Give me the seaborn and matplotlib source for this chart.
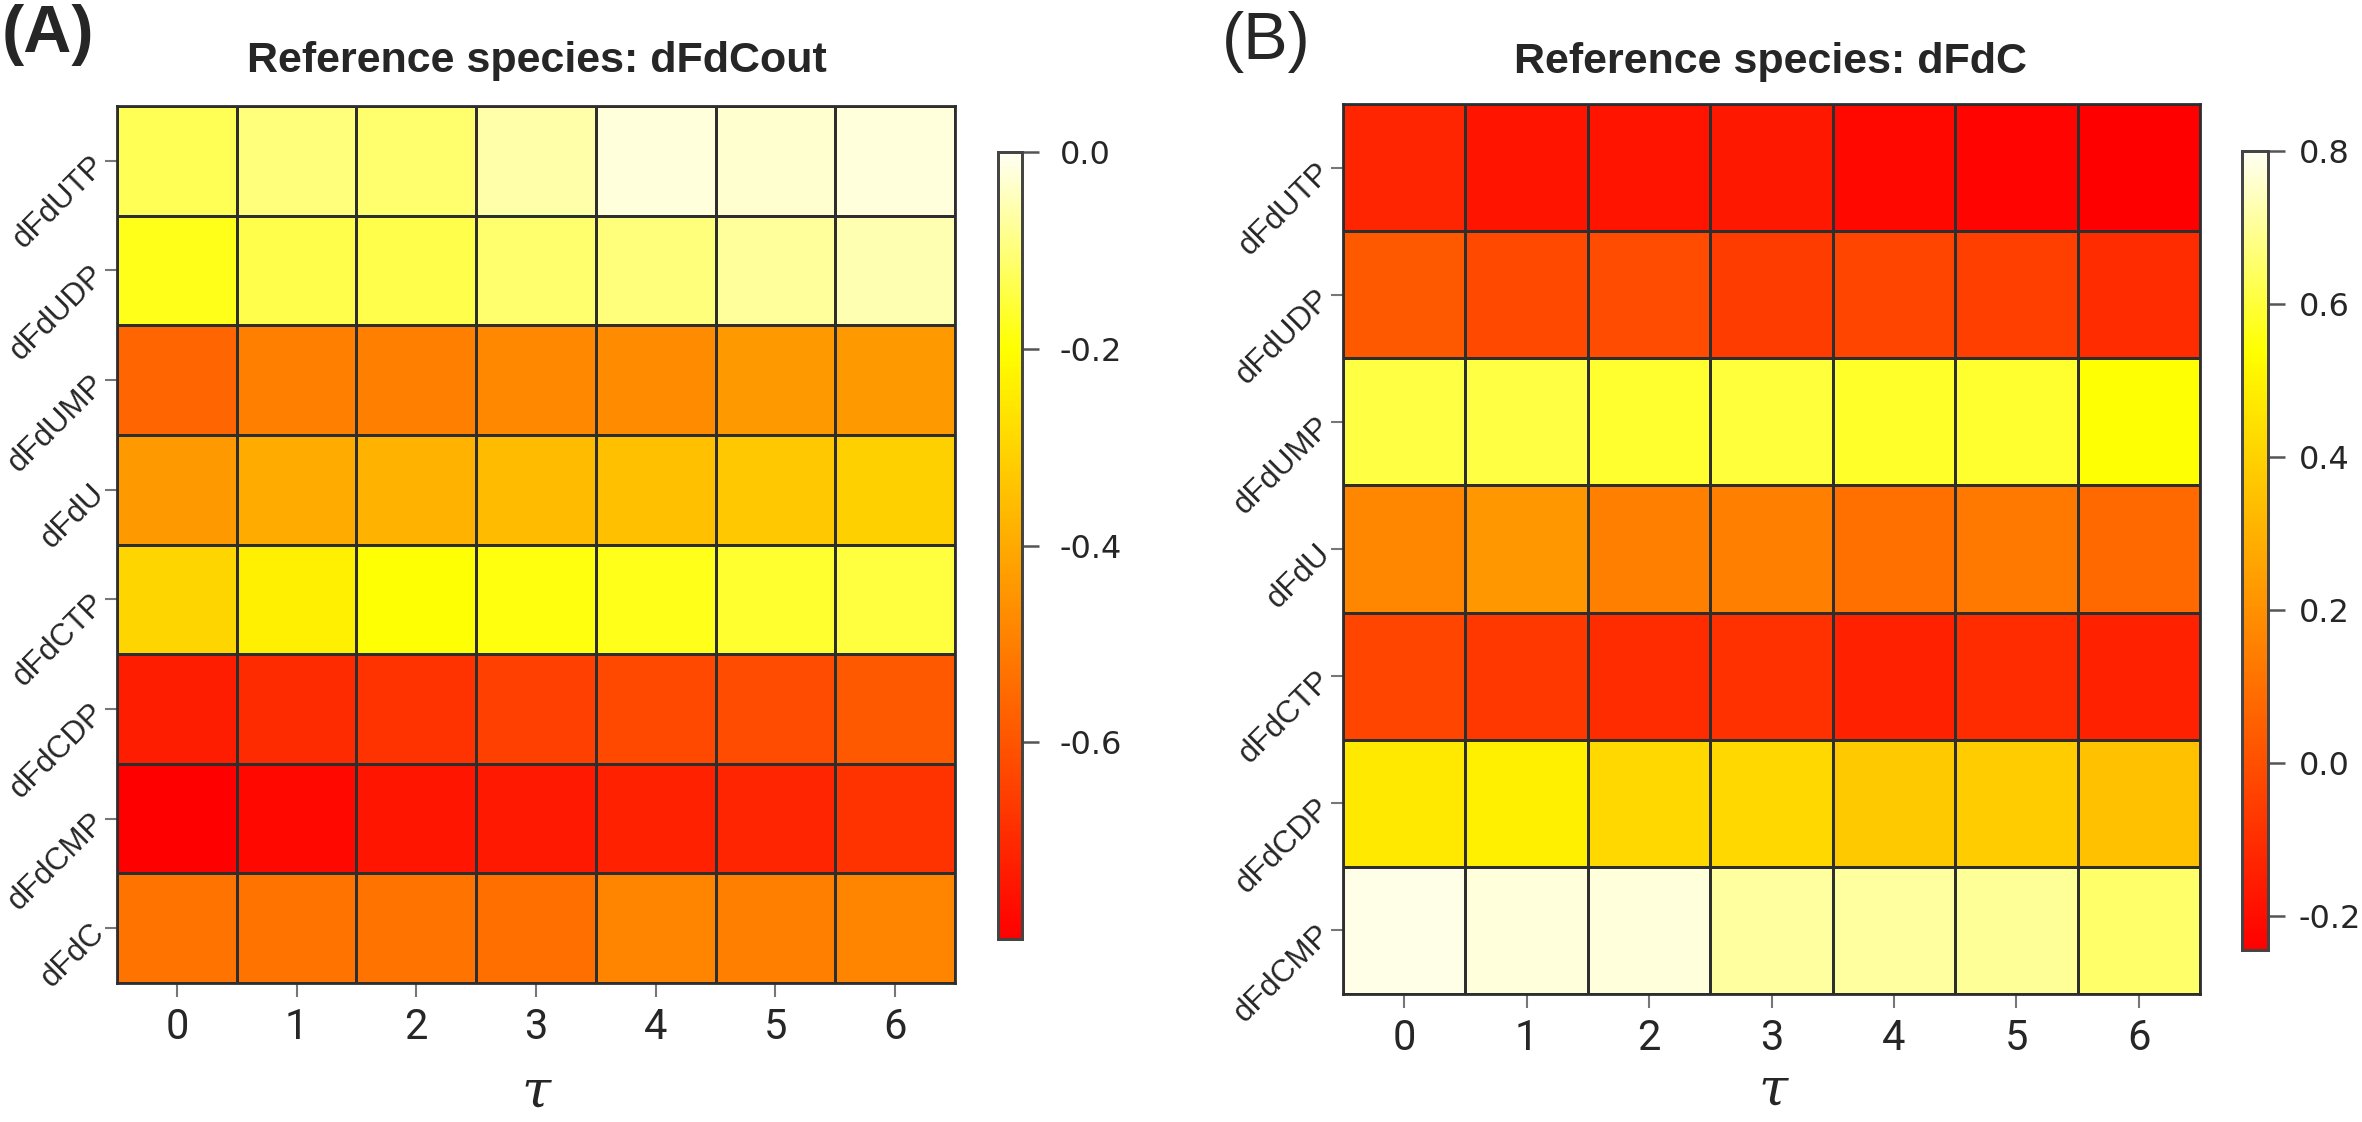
import numpy as np
import pandas as pd
import matplotlib
matplotlib.use("Agg")
import matplotlib.pyplot as plt
import seaborn as sns
from matplotlib.colors import ListedColormap, hsv_to_rgb
from matplotlib import font_manager

# ---------------- data ----------------
taus = [0, 1, 2, 3, 4, 5, 6]
species_a = ["dFdUTP", "dFdUDP", "dFdUMP", "dFdU", "dFdCTP", "dFdCDP", "dFdCMP", "dFdC"]
species_b = ["dFdUTP", "dFdUDP", "dFdUMP", "dFdU", "dFdCTP", "dFdCDP", "dFdCMP"]

# Panel A: reference species dFdCout
a_dFdUTP = [-0.13, -0.10, -0.11, -0.06, -0.02, -0.03, -0.02]
a_dFdUDP = [-0.18, -0.14, -0.14, -0.11, -0.10, -0.075, -0.055]
a_dFdUMP = [-0.56, -0.50, -0.50, -0.48, -0.47, -0.44, -0.44]
a_dFdU   = [-0.44, -0.40, -0.38, -0.36, -0.35, -0.33, -0.31]
a_dFdCTP = [-0.30, -0.24, -0.20, -0.19, -0.18, -0.16, -0.15]
a_dFdCDP = [-0.73, -0.70, -0.68, -0.65, -0.63, -0.62, -0.59]
a_dFdCMP = [-0.80, -0.78, -0.75, -0.74, -0.72, -0.71, -0.68]
a_dFdC   = [-0.53, -0.53, -0.53, -0.54, -0.49, -0.50, -0.49]

# Panel B: reference species dFdC
b_dFdUTP = [-0.13, -0.18, -0.18, -0.17, -0.22, -0.23, -0.245]
b_dFdUDP = [0.03, -0.02, -0.01, -0.06, -0.03, -0.05, -0.11]
b_dFdUMP = [0.61, 0.61, 0.59, 0.60, 0.58, 0.59, 0.54]
b_dFdU   = [0.17, 0.22, 0.15, 0.15, 0.10, 0.13, 0.08]
b_dFdCTP = [-0.03, -0.07, -0.11, -0.09, -0.14, -0.11, -0.14]
b_dFdCDP = [0.47, 0.49, 0.42, 0.42, 0.375, 0.38, 0.35]
b_dFdCMP = [0.785, 0.775, 0.775, 0.71, 0.71, 0.70, 0.65]

ticks_a = [0.0, -0.2, -0.4, -0.6]
ticks_b = [0.8, 0.6, 0.4, 0.2, 0.0, -0.2]
range_a = (-0.8, 0.0)
range_b = (-0.245, 0.8)

dfA = pd.DataFrame([a_dFdUTP, a_dFdUDP, a_dFdUMP, a_dFdU, a_dFdCTP, a_dFdCDP, a_dFdCMP, a_dFdC],
                   index=species_a, columns=taus)
dfB = pd.DataFrame([b_dFdUTP, b_dFdUDP, b_dFdUMP, b_dFdU, b_dFdCTP, b_dFdCDP, b_dFdCMP],
                   index=species_b, columns=taus)

# ---------------- style ----------------
sns.set_style("white")
plt.rcParams["font.family"] = ["Liberation Sans", "DejaVu Sans"]
plt.rcParams["axes.unicode_minus"] = False

names = {f.name for f in font_manager.fontManager.ttflist}
narrow = "Liberation Sans Narrow" if "Liberation Sans Narrow" in names else "Roboto"

# R heat.colors-like colormap
def heat_cmap(n=256):
    cols = []
    for t in np.linspace(0, 1, n):
        if t <= 0.75:
            h, s = t / 0.75 / 6.0, 1.0
        else:
            h, s = 1 / 6.0, 1.0 - (t - 0.75) / 0.25 * 0.95
        cols.append(hsv_to_rgb([h, s, 1.0]))
    return ListedColormap(cols)

cmap = heat_cmap()

W, H = 2362, 1122
fig = plt.figure(figsize=(W / 100, H / 100), dpi=100)

def box(x0, y0, x1, y1):
    return [x0 / W, 1 - y1 / H, (x1 - x0) / W, (y1 - y0) / H]

axA = fig.add_axes(box(117, 106, 955, 983))
caxA = fig.add_axes(box(998, 152, 1022, 939))
axB = fig.add_axes(box(1343, 104, 2200, 994))
caxB = fig.add_axes(box(2242, 151, 2268, 950))

panels = [
    (axA, caxA, dfA, range_a, ticks_a, 15),
    (axB, caxB, dfB, range_b, ticks_b, 10),
]

for ax, cax, df, (vmin, vmax), cticks, cpad in panels:
    sns.heatmap(df, ax=ax, cmap=cmap, vmin=vmin, vmax=vmax,
                linewidths=2.0, linecolor="#2e2e2e", cbar_ax=cax,
                xticklabels=taus, yticklabels=list(df.index))
    for sp in ax.spines.values():
        sp.set_visible(True)
        sp.set_color("#2e2e2e")
        sp.set_linewidth(2.0)
    ax.tick_params(axis="x", bottom=True, length=10, width=1.5, color="#777777", pad=7)
    ax.tick_params(axis="y", left=True, length=9, width=1.5, color="#777777", pad=3)
    ax.set_xticklabels([str(t) for t in taus], rotation=0, fontsize=30, family=narrow)
    ax.set_yticklabels(list(df.index), rotation=45, ha="right", va="center",
                       rotation_mode="anchor", fontsize=22.5)
    ax.set_xlabel("")
    ax.set_ylabel("")
    # colorbar
    cax.set_yticks(cticks)
    cax.set_yticklabels([f"{t:.1f}" for t in cticks], fontsize=23, family="DejaVu Sans")
    cax.tick_params(axis="y", right=True, length=12, width=1.8, color="#555555", pad=cpad)
    for sp in cax.spines.values():
        sp.set_visible(True)
        sp.set_color("#444444")
        sp.set_linewidth(2.0)
    cax.set_ylim(vmin, vmax)

# titles & panel labels
fig.text(537 / W, 1 - 72 / H, "Reference species: dFdCout", ha="center", va="baseline",
         fontsize=31, fontweight="bold")
fig.text(1771 / W, 1 - 73 / H, "Reference species: dFdC", ha="center", va="baseline",
         fontsize=31, fontweight="bold")
fig.text(2 / W, 1 - 52 / H, "(A)", ha="left", va="baseline", fontsize=48, fontweight="bold")
fig.text(1222 / W, 1 - 59 / H, "(B)", ha="left", va="baseline", fontsize=48)

# tau axis labels
fig.text(536 / W, 1 - 1092 / H, "τ", ha="center", va="center", fontsize=38,
         family="DejaVu Serif", style="italic")
fig.text(1773 / W, 1 - 1090 / H, "τ", ha="center", va="center", fontsize=38,
         family="DejaVu Serif", style="italic")

fig.savefig("out.png", dpi=100)
